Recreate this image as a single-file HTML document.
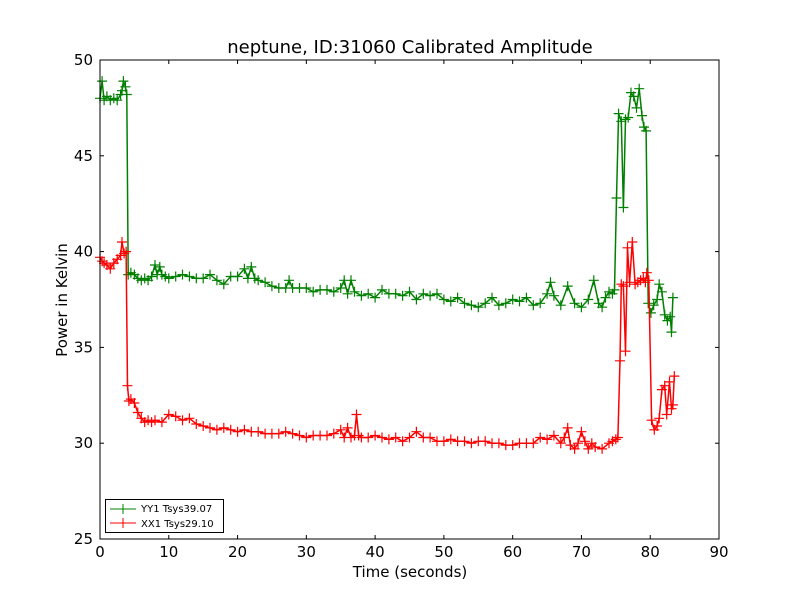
<!DOCTYPE html>
<html><head><meta charset="utf-8"><style>
body{margin:0;background:#fff;}
svg{display:block;font-family:"DejaVu Sans","Liberation Sans",sans-serif;}
</style></head><body>
<svg id="c" width="800" height="600">
<rect x="0" y="0" width="800" height="600" fill="#fff"/>
<text x="410" y="53" text-anchor="middle" font-size="18">neptune, ID:31060 Calibrated Amplitude</text>
<text x="410" y="577" text-anchor="middle" font-size="15">Time (seconds)</text>
<text x="67" y="300" text-anchor="middle" font-size="15" transform="rotate(-90 67 300)">Power in Kelvin</text>
<g id="ticks"></g>
<g id="series"></g>
<rect x="100" y="60" width="619" height="479" fill="none" stroke="#000" stroke-width="1"/>
<g>
<rect x="105.5" y="499.5" width="118" height="33" fill="#fff" stroke="#000"/>
<g><line x1="110" y1="509" x2="136" y2="509" stroke="green"/><path d="M118 509h10M123 504v10" stroke="green"/><text x="141" y="512" font-size="10">YY1 Tsys39.07</text></g>
<g><line x1="110" y1="523" x2="136" y2="523" stroke="red"/><path d="M118 523h10M123 518v10" stroke="red"/><text x="141" y="527" font-size="10">XX1 Tsys29.10</text></g>
</g>
</svg>
<script>
const xTicks=[0,10,20,30,40,50,60,70,80,90];
const yTicks=[25,30,35,40,45,50];
const yyTime=[0,0.3,0.6,1,1.5,2,2.5,3,3.2,3.4,3.7,3.9,4.1,4.5,5,5.5,6,6.5,7,7.5,8,8.3,8.7,9,9.5,10,11,12,13,14,15,16,17,18,19,20,21,21.5,22,22.5,23,24,25,26,27,27.5,28,29,30,31,32,33,34,35,35.5,36,36.5,37,38,39,40,41,42,43,44,45,46,47,48,49,50,51,52,53,54,55,56,57,58,59,60,61,62,63,64,65,65.5,66,67,68,69,70,71,71.8,72.5,73,73.5,74,74.5,74.8,75.1,75.4,75.8,76.1,76.4,76.8,77.2,77.6,78,78.4,78.8,79.1,79.4,79.7,80.1,80.5,81,81.3,81.7,82.1,82.5,82.9,83.1,83.3];
const yyValue=[48,48.9,47.9,48.1,47.9,48,47.9,48.2,48.4,48.9,48.6,48.2,38.8,38.9,38.8,38.6,38.5,38.6,38.5,38.7,39.3,38.8,39.2,38.8,38.7,38.6,38.7,38.8,38.7,38.6,38.6,38.8,38.5,38.3,38.7,38.7,39.1,38.6,39.2,38.6,38.5,38.4,38.2,38.1,38.1,38.5,38.1,38.1,38.1,37.9,38,38,37.9,38.1,38.5,37.8,38.5,37.9,37.7,37.8,37.6,38,37.8,37.8,37.7,37.9,37.5,37.8,37.7,37.8,37.5,37.4,37.6,37.3,37.2,37.1,37.3,37.6,37.2,37.3,37.5,37.4,37.6,37.2,37.3,37.8,38.4,37.7,37.2,38.2,37.3,37.1,37.5,38.5,37.3,37.1,37.6,37.9,37.8,38,42.8,47.2,46.8,42.3,46.9,47,48.3,48.1,47.5,48.5,47.1,46.5,46.3,37.3,36.8,37.2,37.5,38.3,37.9,36.7,36.4,36.6,35.8,37.6];
const xxTime=[0,0.3,0.6,1,1.5,2,2.5,3,3.2,3.5,3.8,4,4.2,4.5,5,5.5,6,6.5,7,7.5,8,9,10,11,12,13,14,15,16,17,18,19,20,21,22,23,24,25,26,27,28,29,30,31,32,33,34,35,35.5,36,36.5,37,37.3,37.6,38,39,40,41,42,43,44,45,46,47,48,49,50,51,52,53,54,55,56,57,58,59,60,61,62,63,64,65,66,67,67.5,68,68.4,69,69.5,70,70.5,71,71.5,72,73,74,74.5,75,75.3,75.6,75.8,76.1,76.4,76.7,77,77.4,77.8,78.2,78.6,79,79.3,79.5,79.8,80.2,80.6,81,81.3,81.7,82.1,82.4,82.8,83.1,83.3,83.5];
const xxValue=[39.7,39.5,39.4,39.3,39.1,39.4,39.6,39.8,40.5,39.9,40,33,32.2,32.3,32.1,31.6,31.3,31.1,31.2,31.1,31.2,31.1,31.5,31.4,31.2,31.3,31,30.9,30.8,30.7,30.8,30.7,30.6,30.7,30.6,30.6,30.5,30.5,30.5,30.6,30.5,30.4,30.3,30.4,30.4,30.4,30.5,30.7,30.3,30.8,30.3,30.4,31.5,30.4,30.3,30.3,30.4,30.3,30.2,30.3,30.1,30.3,30.6,30.3,30.3,30.1,30.1,30.2,30.1,30.1,30,30.1,30.1,30,30,29.9,29.9,30,30,30,30.3,30.2,30.4,30,30.3,30.8,29.9,29.7,30,30.6,30.1,29.7,30,29.8,29.7,30,30.1,30.2,30.3,34.3,38.3,38.2,34.8,40.2,38.4,40.5,38.3,38.4,38.5,38.6,38.4,38.9,38.5,31.2,30.7,30.9,31.3,32.8,33,31.5,33.2,31.8,32,33.5,34.3,32.5];

const X0=100,X1=719,Y0=539,Y1=60;
const sx=v=>X0+(v-0)/(90-0)*(X1-X0);
const sy=v=>Y0-(v-25)/(50-25)*(Y0-Y1);
const NS="http://www.w3.org/2000/svg";
const tg=document.getElementById('ticks');
function mk(tag,attrs,parent){const e=document.createElementNS(NS,tag);for(const k in attrs)e.setAttribute(k,attrs[k]);parent.appendChild(e);return e;}
xTicks.forEach(t=>{const x=sx(t);
 const g=mk('g',{},tg);
 
 
 mk('line',{x1:x,y1:Y0,x2:x,y2:Y0-4,stroke:'#000'},g);
 mk('line',{x1:x,y1:Y1,x2:x,y2:Y1+4,stroke:'#000'},g);
 const tx=mk('text',{x:x,y:557,'text-anchor':'middle','font-size':15},g);tx.textContent=t;});
yTicks.forEach(t=>{const y=sy(t);
 const g=mk('g',{},tg);
 
 
 mk('line',{x1:X0,y1:y,x2:X0+4,y2:y,stroke:'#000'},g);
 mk('line',{x1:X1,y1:y,x2:X1-4,y2:y,stroke:'#000'},g);
 const tx=mk('text',{x:93,y:y+5,'text-anchor':'end','font-size':15},g);tx.textContent=t;});
const sg=document.getElementById('series');
function drawSeries(ts,vs,color,name){
 const g=mk('g',{},sg);
 
 
 const pts=ts.map((t,i)=>sx(t).toFixed(1)+','+sy(vs[i]).toFixed(1)).join(' ');
 mk('polyline',{points:pts,fill:'none',stroke:color,'stroke-width':1.5},g);
 let d='';ts.forEach((t,i)=>{const x=sx(t),y=sy(vs[i]);d+=`M${(x-5).toFixed(1)} ${y.toFixed(1)}h10M${x.toFixed(1)} ${(y-5).toFixed(1)}v10`;});
 const m=mk('path',{d:d,stroke:color,'stroke-width':1.2,fill:'none'},g);
 
 
}
drawSeries(yyTime,yyValue,'green','series-yy1');
drawSeries(xxTime,xxValue,'red','series-xx1');
</script>
</body></html>
